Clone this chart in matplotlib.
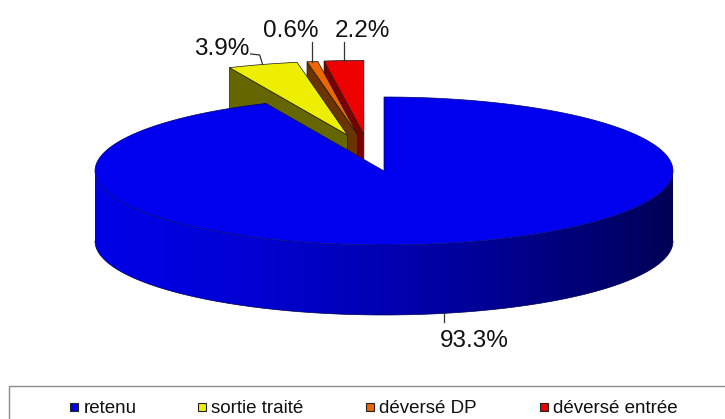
import numpy as np
import matplotlib
matplotlib.use("Agg")
import matplotlib.pyplot as plt
from matplotlib.patches import Polygon, Rectangle

# ---------------- data ----------------
categories = ["retenu", "sortie traité", "déversé DP", "déversé entrée"]
values = [93.3, 3.9, 0.6, 2.2]
value_labels = ["93.3%", "3.9%", "0.6%", "2.2%"]
explode = [0.0, 0.5, 0.5, 0.5]

# ---------------- style ----------------
top_colors = ["#0000EE", "#EEEE00", "#EE6600", "#EE0000"]
side_colors = ["#00005C", "#666600", "#6B3300", "#7A0000"]
plt.rcParams['font.family'] = ['Liberation Sans', 'DejaVu Sans']

W, H = 725, 419
fig = plt.figure(figsize=(7.25, 4.19), dpi=100)
ax = fig.add_axes([0, 0, 1, 1])

cx, cy, rx, ry, depth = 384.0, 171.0, 289.0, 74.0, 70.0

total = float(sum(values))
spans = [360.0 * v / total for v in values]
intervals = []
a = 90.0
for s in spans:
    intervals.append((a - s, a))  # counter-clockwise interval [lo, hi] in degrees
    a -= s
mids = [(lo + hi) / 2 for lo, hi in intervals]

ex_idx = [i for i, e in enumerate(explode) if e > 0]
group_mid = (min(intervals[i][0] for i in ex_idx) + max(intervals[i][1] for i in ex_idx)) / 2

offsets = []
for i, e in enumerate(explode):
    if e > 0:
        d = np.radians((mids[i] + group_mid) / 2)
        offsets.append((e * rx * np.cos(d), -e * ry * np.sin(d)))
    else:
        offsets.append((0.0, 0.0))


def pt(tdeg, off, dz=0.0):
    t = np.radians(tdeg)
    return (cx + rx * np.cos(t) + off[0], cy - ry * np.sin(t) + off[1] + dz)


def arc(lo, hi, off, dz=0.0, n=200):
    ts = np.linspace(lo, hi, n)
    return [pt(t, off, dz) for t in ts]


def draw_slice(i, z):
    lo, hi = intervals[i]
    off = offsets[i]
    c0 = (cx + off[0], cy + off[1])
    c1 = (c0[0], c0[1] + depth)
    top, side = top_colors[i], side_colors[i]
    ec = "#1a1a1a" if explode[i] > 0 else "#000070"
    lw = 0.5
    # radial faces
    if np.cos(np.radians(hi)) < -1e-6:
        p, q = pt(hi, off), pt(hi, off, depth)
        ax.add_patch(Polygon([c0, p, q, c1], closed=True, facecolor=side,
                             edgecolor=ec, lw=lw, zorder=z))
    if np.cos(np.radians(lo)) > 1e-6:
        p, q = pt(lo, off), pt(lo, off, depth)
        ax.add_patch(Polygon([c0, p, q, c1], closed=True, facecolor=side,
                             edgecolor=ec, lw=lw, zorder=z))
    # front curved wall (where sin < 0)
    for k in range(-2, 2):
        wlo, whi = max(lo, -180 + 360 * k), min(hi, 360 * k)
        if whi > wlo:
            pts = arc(wlo, whi, off) + arc(wlo, whi, off, depth)[::-1]
            poly = Polygon(pts, closed=True, facecolor='none', edgecolor='none', zorder=z)
            ax.add_patch(poly)
            u = np.linspace(0, 1, 400)
            bch = (230 - 145 * u ** 1.5) / 255.0
            img = np.zeros((1, 400, 3))
            img[0, :, 2] = bch
            im = ax.imshow(img, extent=[cx - rx, cx + rx, cy + ry + depth + 2, cy - 2],
                           aspect='auto', zorder=z, interpolation='bilinear')
            im.set_clip_path(poly)
            edge = arc(wlo, whi, off, depth)
            ax.plot([p[0] for p in edge], [p[1] for p in edge], color="#000050", lw=0.5, zorder=z)
    # top face
    ax.add_patch(Polygon([c0] + arc(lo, hi, off), closed=True, facecolor=top,
                         edgecolor=ec, lw=lw, zorder=z + 0.5))


# exploded slices back-to-front (right-most first), then the large slice
order = ex_idx[::-1] + [i for i in range(len(values)) if i not in ex_idx]
for z, i in enumerate(order):
    draw_slice(i, 2 + z)

# ---------------- labels with leader lines ----------------
for i, lab in enumerate(value_labels):
    off = offsets[i]
    if explode[i] > 0:
        axx, ayy = pt(mids[i], off)
    else:
        axx, ayy = pt(mids[i], off, depth)
    if i == 0:
        ax.plot([axx, axx], [ayy, ayy + 9], color="#333333", lw=0.9, zorder=20)
        ax.text(axx - 5, ayy + 34, lab, ha='left', va='baseline', fontsize=17.5, color='#111111')
    elif i == 1:
        ax.plot([axx, axx - 3, axx - 12], [ayy, ayy - 9.5, ayy - 10.5], color="#333333", lw=0.9, zorder=20)
        ax.text(axx - 13, ayy - 9, lab, ha='right', va='baseline', fontsize=17.5, color='#111111')
    elif i == 2:
        ax.plot([axx, axx], [ayy, ayy - 20], color="#333333", lw=0.9, zorder=20)
        ax.text(axx - 49, ayy - 25, lab, ha='left', va='baseline', fontsize=17.5, color='#111111')
    else:
        ax.plot([axx, axx], [ayy, ayy - 19], color="#333333", lw=0.9, zorder=20)
        ax.text(axx - 9, ayy - 24, lab, ha='left', va='baseline', fontsize=17.5, color='#111111')

# ---------------- legend ----------------
ax.add_patch(Rectangle((9.5, 385.5), 730, 60, facecolor='white', edgecolor='#8c8c8c', lw=1.0, zorder=30))
leg_x = [70, 198, 366, 540]
for i, cat in enumerate(categories):
    ax.add_patch(Rectangle((leg_x[i], 402.5), 8, 8.5, facecolor=top_colors[i],
                           edgecolor='#222222', lw=0.8, zorder=31))
    ax.text(leg_x[i] + 13.5, 413, cat, ha='left', va='baseline', fontsize=13.5,
            color='#111111', zorder=31)

ax.set_xlim(0, W)
ax.set_ylim(H, 0)
ax.axis('off')
fig.savefig("out.png", dpi=100)
